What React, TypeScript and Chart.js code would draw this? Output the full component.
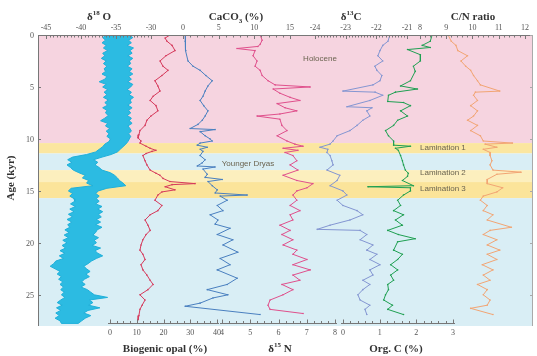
import React, { useEffect, useRef } from 'react';
import { Chart, registerables } from 'chart.js';

Chart.register(...registerables);

const W = 537;
const H = 356;
const AREA = { left: 38, top: 35, right: 533, bottom: 326 };
const AGE_MAX = 28;

// ---------- data ----------
// δ18O: dense record drawn as its min / max envelope
const O18_AGE = [0, 0.25, 0.5, 0.75, 1, 1.25, 1.5, 1.75, 2, 2.25, 2.5, 2.75, 3, 3.25, 3.5, 3.75, 4, 4.25, 4.5, 4.75, 5, 5.25, 5.5, 5.75, 6, 6.25, 6.5, 6.75, 7, 7.25, 7.5, 7.75, 8, 8.25, 8.5, 8.75, 9, 9.25, 9.5, 9.75, 10,
  10.25, 10.5, 10.75, 11.0, 11.25, 11.5, 11.75, 12.0, 12.25, 12.5, 12.75, 13.0, 13.25, 13.5, 13.75, 14.0, 14.25, 14.5, 14.75, 15.0, 15.25, 15.5, 15.75,
  16.0, 16.25, 16.5, 16.75, 17.0, 17.25, 17.5, 17.75, 18.0, 18.25, 18.5, 18.75, 19.0, 19.25, 19.5, 19.75, 20.0, 20.25, 20.5, 20.75, 21.0, 21.25, 21.5, 21.75, 22.0, 22.25, 22.5, 22.75, 23.0, 23.25, 23.5, 23.75, 24.0, 24.25, 24.5, 24.75, 25.0, 25.25, 25.5, 25.75, 26.0, 26.25, 26.5, 26.75, 27.0, 27.25, 27.5, 27.75];
const O18_LO = [-36.3, -36.9, -36.5, -37.0, -36.4, -36.8, -36.2, -36.9, -36.6, -37.1, -36.4, -36.8, -36.3, -36.7, -36.5, -37.0, -36.3, -36.6, -37.4, -36.4, -36.9, -36.2, -36.7, -36.3, -36.8, -36.1, -36.6, -36.2, -36.9, -36.3, -36.5, -36.1, -36.6, -37.2, -36.2, -36.5, -35.9, -36.4, -36.0, -36.3, -35.8,
  -36.0, -36.6, -36.9, -37.4, -37.9, -39.2, -41.2, -41.9, -41.3, -42.0, -41.5, -41.1, -40.3, -39.4, -39.8, -38.9, -39.2, -38.3, -41.4, -41.8, -41.2, -41.6, -41.0,
  -40.9, -41.5, -40.8, -41.6, -41.0, -41.8, -41.2, -42.0, -41.3, -41.9, -41.6, -42.3, -41.7, -42.4, -41.8, -42.6, -42.0, -42.7, -42.2, -43.0, -42.3, -43.1, -42.5, -43.6, -43.9, -44.4, -43.7, -43.0, -43.4, -42.8, -43.2, -42.6, -43.0, -42.5, -42.9, -42.4, -42.8, -42.3, -42.9, -43.4, -42.7, -43.5, -42.9, -43.6, -43.1, -43.7, -43.0, -42.8];
const O18_HI = [-33.1, -32.6, -33.2, -32.8, -33.4, -32.5, -33.0, -32.7, -33.3, -32.6, -33.1, -32.9, -33.4, -32.7, -33.1, -32.6, -33.2, -32.8, -33.3, -32.6, -32.9, -33.4, -32.8, -33.1, -32.5, -33.0, -32.8, -33.3, -32.7, -33.2, -32.9, -33.4, -32.8, -33.1, -32.7, -33.3, -33.0, -32.8, -33.2, -32.9, -33.1,
  -33.3, -33.6, -34.0, -34.4, -34.8, -35.7, -37.0, -38.2, -37.6, -38.0, -37.4, -37.0, -35.8, -35.2, -34.8, -34.5, -34.0, -33.6, -36.3, -37.5, -37.9, -37.4, -37.8,
  -37.4, -37.9, -37.0, -37.6, -36.9, -37.5, -37.1, -37.8, -37.2, -37.9, -37.0, -37.7, -37.9, -38.3, -37.5, -38.1, -37.8, -38.4, -37.2, -38.0, -37.6, -36.9, -37.8, -38.5, -39.0, -39.6, -39.2, -38.7, -39.3, -38.8, -39.5, -39.9, -39.4, -40.0, -39.1, -38.6, -38.1, -36.2, -38.8, -38.3, -38.9, -37.3, -39.0, -39.6, -38.6, -39.4, -39.9, -40.4];

const OPAL_AGE = [0.0, 0.3, 0.6, 1.0, 1.5, 2.0, 2.5, 3.0, 3.4, 3.9, 4.4, 4.9, 5.4, 5.9, 6.3, 6.8, 7.3, 7.8, 8.2, 8.7, 9.2, 9.6, 9.9, 10.2, 10.4, 10.7, 10.9, 11.1, 11.2, 11.4, 11.6, 12.1, 12.5, 13.0, 13.3, 13.5, 13.8, 14.1, 14.3, 14.4, 14.6, 14.9, 15.1, 15.4, 15.9, 16.4, 16.9, 17.3, 17.8, 18.3, 18.8, 19.2, 19.7, 20.2, 20.7, 21.1, 21.6, 22.1, 22.6, 23.1, 23.6, 24.0, 24.5, 25.0, 25.5, 26.0, 26.4, 27.0, 27.4];
const OPAL = [22.4, 20.6, 21.3, 23.2, 24.3, 20.9, 18.7, 19.8, 21.7, 19.4, 16.8, 17.9, 18.7, 16.1, 15.0, 17.2, 17.9, 15.3, 13.8, 13.1, 11.2, 10.8, 10.5, 11.6, 11.2, 13.5, 15.0, 17.2, 15.7, 13.5, 12.3, 13.1, 13.8, 15.0, 17.2, 18.7, 19.8, 22.4, 31.8, 23.2, 20.6, 24.3, 19.4, 17.9, 16.8, 19.4, 17.9, 15.0, 13.1, 14.2, 15.0, 13.5, 12.3, 11.6, 11.2, 12.3, 13.1, 11.6, 12.3, 13.8, 15.0, 16.1, 14.2, 11.2, 13.1, 12.0, 11.2, 10.8, 10.5];

const CACO3_AGE = [0.0, 0.6, 1.5, 2.5, 3.0, 3.4, 3.9, 4.4, 4.9, 5.4, 5.9, 6.3, 6.8, 7.3, 7.8, 8.2, 8.6, 9.0, 9.1, 9.3, 9.7, 10.0, 10.2, 10.4, 10.6, 10.8, 11.0, 11.2, 11.6, 12.0, 12.3, 12.6, 12.7, 12.9, 13.4, 13.7, 13.9, 14.1, 14.5, 14.9, 15.2, 15.4, 15.5, 15.9, 16.4, 16.9, 17.3, 17.8, 18.2, 18.6, 19.2, 19.7, 20.2, 20.9, 21.5, 22.1, 22.6, 23.4, 24.0, 24.5, 25.0, 25.3, 25.8, 26.1, 26.9];
const CACO3 = [0.3, 0.3, 0.4, 0.7, 1.4, 2.4, 3.2, 4.1, 3.5, 3.1, 2.8, 2.4, 2.9, 3.5, 3.1, 2.7, 2.1, 1.0, 4.5, 2.4, 3.1, 3.8, 4.1, 2.4, 2.0, 3.4, 2.4, 2.8, 2.4, 3.1, 2.7, 2.0, 4.5, 2.8, 3.4, 3.1, 5.5, 3.5, 4.1, 4.8, 4.5, 9.0, 5.2, 6.2, 4.8, 5.6, 3.8, 4.9, 4.5, 6.6, 4.8, 7.0, 5.6, 7.7, 5.2, 6.6, 4.8, 7.6, 6.2, 3.4, 6.3, 4.2, 2.4, 0.3, 10.8];

const N15_AGE = [0.0, 0.5, 0.9, 1.1, 1.3, 1.5, 2.0, 2.5, 3.0, 3.4, 3.9, 4.4, 4.8, 5.0, 5.2, 5.6, 6.0, 6.3, 6.6, 7.0, 7.3, 7.6, 7.8, 8.1, 8.7, 9.2, 9.7, 10.2, 10.5, 10.7, 10.9, 11.1, 11.3, 11.6, 12.1, 12.5, 13.0, 13.5, 14.0, 14.3, 14.7, 15.0, 15.4, 15.9, 16.4, 16.9, 17.3, 17.8, 18.3, 18.8, 19.2, 19.7, 20.2, 20.7, 21.1, 21.6, 22.1, 22.6, 23.1, 23.6, 24.0, 24.5, 25.0, 25.5, 26.0, 26.4, 26.8];
const N15 = [5.35, 5.42, 5.35, 5.27, 4.53, 5.17, 5.10, 5.24, 5.17, 5.35, 5.42, 5.63, 5.88, 7.12, 5.81, 6.05, 6.41, 6.76, 5.95, 6.23, 6.65, 6.05, 5.24, 6.05, 6.12, 6.30, 5.95, 6.30, 6.58, 6.87, 6.16, 6.69, 6.23, 6.51, 6.65, 6.41, 6.69, 6.16, 6.65, 7.22, 7.01, 6.65, 6.51, 6.65, 6.41, 6.76, 6.41, 6.51, 6.05, 6.41, 6.12, 6.51, 6.16, 6.65, 6.51, 7.01, 6.51, 7.12, 6.51, 6.76, 6.12, 6.51, 6.16, 5.70, 5.63, 5.70, 6.87];

const C13_AGE = [0.0, 0.6, 1.0, 1.5, 2.0, 2.5, 3.0, 3.4, 3.9, 4.4, 4.8, 5.4, 5.5, 5.8, 6.3, 6.9, 7.0, 7.3, 7.8, 8.2, 8.7, 9.2, 9.7, 10.2, 10.5, 10.8, 11.0, 11.3, 11.6, 12.1, 12.5, 13.0, 13.5, 14.0, 14.5, 15.0, 15.4, 15.9, 16.4, 16.9, 17.3, 17.8, 18.3, 18.7, 18.8, 19.2, 19.7, 20.2, 20.7, 21.1, 21.6, 22.1, 22.6, 23.1, 23.6, 24.0, 24.5, 25.0, 25.5, 26.0, 26.4, 26.9];
const C13 = [-21.56, -21.62, -21.79, -21.88, -21.95, -21.79, -22.05, -21.98, -21.82, -21.88, -22.11, -23.09, -22.04, -21.79, -22.21, -22.96, -22.14, -22.31, -22.21, -22.44, -22.63, -22.86, -23.28, -23.41, -23.51, -23.84, -23.58, -23.61, -23.51, -23.45, -23.41, -23.61, -23.19, -23.28, -23.51, -23.09, -22.96, -23.28, -23.09, -22.63, -22.44, -22.86, -23.51, -23.93, -22.53, -22.31, -22.53, -22.11, -22.31, -21.98, -22.21, -21.88, -22.21, -22.11, -22.44, -22.21, -22.44, -22.60, -22.53, -22.21, -22.37, -22.31];

const ORGC_AGE = [0.0, 0.6, 1.0, 1.2, 1.4, 1.9, 2.5, 3.0, 3.5, 4.4, 4.9, 5.2, 5.5, 5.8, 6.4, 6.5, 6.8, 7.3, 7.8, 8.2, 8.7, 9.2, 9.7, 10.2, 10.6, 10.7, 10.9, 11.1, 11.6, 12.1, 12.5, 13.0, 13.3, 13.6, 14.0, 14.5, 14.6, 14.7, 15.0, 15.4, 15.9, 16.4, 16.9, 17.3, 17.8, 18.3, 18.8, 19.2, 19.6, 19.9, 20.7, 21.1, 21.6, 22.1, 22.6, 23.1, 23.6, 24.0, 24.5, 25.0, 25.5, 26.0, 26.4, 26.9];
const ORGC = [2.43, 2.38, 2.16, 2.38, 1.76, 2.11, 2.11, 1.92, 1.97, 1.84, 1.57, 2.03, 1.43, 1.24, 1.22, 1.65, 1.84, 1.57, 1.76, 1.49, 1.38, 1.16, 1.24, 1.38, 1.38, 1.84, 1.43, 1.51, 1.57, 1.62, 1.65, 1.70, 1.78, 1.76, 1.62, 1.92, 0.68, 1.84, 1.84, 1.65, 1.49, 1.57, 1.38, 1.65, 1.43, 1.62, 1.22, 1.51, 1.97, 1.49, 1.38, 1.62, 1.49, 1.30, 1.49, 1.30, 1.38, 1.22, 1.24, 1.16, 1.11, 1.35, 1.22, 1.65];

const CN_AGE = [0.0, 0.6, 1.0, 1.5, 2.0, 2.5, 3.0, 3.4, 3.9, 4.4, 4.8, 5.4, 5.5, 5.8, 6.3, 6.8, 7.3, 7.8, 8.2, 8.7, 9.2, 9.7, 10.2, 10.4, 10.5, 10.8, 11.0, 11.3, 11.6, 12.1, 12.5, 13.0, 13.2, 13.4, 13.9, 14.3, 14.7, 15.1, 15.5, 15.9, 16.4, 16.9, 17.3, 17.8, 18.5, 18.8, 19.2, 19.7, 20.2, 20.7, 21.1, 21.6, 22.1, 22.6, 23.1, 23.6, 24.0, 24.5, 25.0, 25.5, 26.0, 26.3, 26.9];
const CN = [9.07, 9.19, 9.37, 9.44, 9.81, 9.56, 9.74, 9.93, 10.04, 10.19, 10.30, 11.04, 10.11, 10.04, 10.19, 9.93, 10.19, 10.04, 9.81, 10.19, 9.93, 10.30, 10.41, 11.52, 10.48, 10.93, 10.41, 10.67, 10.67, 10.74, 10.67, 10.78, 11.85, 10.93, 10.56, 10.56, 11.15, 10.93, 10.41, 10.30, 10.56, 10.41, 10.78, 10.56, 11.48, 10.67, 10.41, 10.93, 10.56, 11.04, 10.56, 10.93, 10.37, 10.78, 10.41, 10.67, 10.19, 10.56, 10.41, 10.67, 10.56, 9.93, 10.78];

// tick labels
const AGE_TICKS = [0, 5, 10, 15, 20, 25];
const O18_TICKS = [-45, -40, -35, -30];
const CACO3_TICKS = [0, 5, 10, 15];
const C13_TICKS = [-24, -23, -22, -21];
const CN_TICKS = [8, 9, 10, 11, 12];
const OPAL_TICKS = [0, 10, 20, 30, 40];
const N15_TICKS = [4, 5, 6, 7, 8];
const ORGC_TICKS = [0, 1, 2, 3];

// climate intervals (age from, age to)
const ZONES = [
  { from: 0, to: 10.4, color: '#f6d4e0' },
  { from: 10.4, to: 11.4, color: '#fbe6a0' },
  { from: 11.4, to: 13.0, color: '#d9eef5' },
  { from: 13.0, to: 14.15, color: '#fcefbe' },
  { from: 14.15, to: 15.7, color: '#fbe49a' },
  { from: 15.7, to: 28, color: '#d9eef5' },
];
const ZONE_LABELS = [
  { text: 'Holocene', age: 2.3, x: 320, align: 'center' },
  { text: 'Younger Dryas', age: 12.4, x: 248, align: 'center' },
  { text: 'Lamination 1', age: 10.9, x: 420, align: 'left' },
  { text: 'Lamination 2', age: 13.3, x: 420, align: 'left' },
  { text: 'Lamination 3', age: 14.8, x: 420, align: 'left' },
];

// axis layout: value v0 sits at pixel p0, v1 at p1
const AXES = [
  { id: 'xO18', side: 'top', v0: -45, p0: 46, v1: -30, p1: 151, ticks: O18_TICKS, minor: 0.5 },
  { id: 'xCaCO3', side: 'top', v0: 0, p0: 183, v1: 15, p1: 290, ticks: CACO3_TICKS, minor: 1 },
  { id: 'xC13', side: 'top', v0: -24, p0: 315, v1: -21, p1: 407, ticks: C13_TICKS, minor: 0.1 },
  { id: 'xCN', side: 'top', v0: 8, p0: 420, v1: 12, p1: 525, ticks: CN_TICKS, minor: 0.2 },
  { id: 'xOpal', side: 'bottom', v0: 0, p0: 110, v1: 40, p1: 217, ticks: OPAL_TICKS, minor: 2.5 },
  { id: 'xN15', side: 'bottom', v0: 4, p0: 222, v1: 8, p1: 335, ticks: N15_TICKS, minor: 0.25 },
  { id: 'xOrgC', side: 'bottom', v0: 0, p0: 343, v1: 3, p1: 453, ticks: ORGC_TICKS, minor: 0.2 },
];

const SERIF = '"Liberation Serif", "DejaVu Serif", serif';
const SANS = '"Liberation Sans", Arial, sans-serif';

function axisRange(a: any) {
  const k = (a.v1 - a.v0) / (a.p1 - a.p0);
  return { min: a.v0 - (a.p0 - AREA.left) * k, max: a.v0 + (AREA.right - a.p0) * k };
}

type Part = { t: string; sup?: boolean; sub?: boolean };
function drawRich(ctx: CanvasRenderingContext2D, parts: Part[], x: number, y: number, size: number, align: 'left' | 'center') {
  const fontFor = (p: Part) => `bold ${p.sup || p.sub ? Math.round(size * 0.65) : size}px ${SERIF}`;
  let total = 0;
  for (const p of parts) { ctx.font = fontFor(p); total += ctx.measureText(p.t).width; }
  let cx = align === 'center' ? x - total / 2 : x;
  ctx.textAlign = 'left';
  ctx.textBaseline = 'alphabetic';
  for (const p of parts) {
    ctx.font = fontFor(p);
    const dy = p.sup ? -size * 0.42 : p.sub ? size * 0.25 : 0;
    ctx.fillText(p.t, cx, y + dy);
    cx += ctx.measureText(p.t).width;
  }
}

const decor = {
  id: 'decor',
  beforeDraw(chart: any) {
    const { ctx, chartArea: ca, scales } = chart;
    const ys = scales.y;
    ctx.save();
    for (const z of ZONES) {
      const y0 = ys.getPixelForValue(z.from);
      const y1 = ys.getPixelForValue(z.to);
      ctx.fillStyle = z.color;
      ctx.fillRect(ca.left, y0, ca.right - ca.left, y1 - y0);
    }
    ctx.fillStyle = '#6b6450';
    ctx.font = `8px ${SANS}`;
    ctx.textBaseline = 'middle';
    for (const l of ZONE_LABELS) {
      ctx.textAlign = l.align;
      ctx.fillText(l.text, l.x, ys.getPixelForValue(l.age));
    }
    ctx.restore();
  },
  afterDraw(chart: any) {
    const { ctx, chartArea: ca, scales } = chart;
    const ys = scales.y;
    ctx.save();
    ctx.strokeStyle = '#777';
    ctx.fillStyle = '#555';
    ctx.lineWidth = 1;
    ctx.beginPath();
    ctx.moveTo(ca.left, ca.top + 0.5);
    ctx.lineTo(ca.right, ca.top + 0.5);
    ctx.stroke();
    ctx.beginPath();
    ctx.moveTo(ca.left + 0.5, ca.top);
    ctx.lineTo(ca.left + 0.5, ca.bottom);
    ctx.stroke();
    ctx.strokeStyle = '#aaa';
    ctx.beginPath();
    ctx.moveTo(ca.right - 0.5, ca.top);
    ctx.lineTo(ca.right - 0.5, ca.bottom);
    ctx.stroke();
    for (const t of AGE_TICKS) {
      const y = Math.round(ys.getPixelForValue(t)) + 0.5;
      ctx.beginPath();
      ctx.moveTo(ca.right, y);
      ctx.lineTo(ca.right - 3, y);
      ctx.stroke();
    }
    ctx.strokeStyle = '#777';
    ctx.font = `8px ${SERIF}`;
    ctx.textAlign = 'right';
    ctx.textBaseline = 'middle';
    for (const t of AGE_TICKS) {
      const y = Math.round(ys.getPixelForValue(t)) + 0.5;
      ctx.beginPath();
      ctx.moveTo(ca.left, y);
      ctx.lineTo(ca.left + 3, y);
      ctx.stroke();
      ctx.fillText(String(t), ca.left - 4, y);
    }
    const bottomY = ca.bottom - 2.5;
    for (const a of AXES) {
      const sc = scales[a.id];
      const first = a.ticks[0];
      const last = a.ticks[a.ticks.length - 1];
      const n = Math.round((last - first) / a.minor);
      if (a.side === 'bottom') {
        ctx.beginPath();
        ctx.moveTo(sc.getPixelForValue(first) - 2, bottomY);
        ctx.lineTo(sc.getPixelForValue(last) + 2, bottomY);
        ctx.stroke();
      }
      for (let i = 0; i <= n; i++) {
        const v = first + i * a.minor;
        const x = Math.round(sc.getPixelForValue(v)) + 0.5;
        const major = a.ticks.some((t: number) => Math.abs(t - v) < 1e-6);
        const len = major ? 4 : 2.5;
        ctx.beginPath();
        if (a.side === 'top') {
          ctx.moveTo(x, ca.top);
          ctx.lineTo(x, ca.top + len);
        } else {
          ctx.moveTo(x, bottomY);
          ctx.lineTo(x, bottomY - len);
        }
        ctx.stroke();
      }
      ctx.textAlign = 'center';
      for (const t of a.ticks) {
        const x = sc.getPixelForValue(t);
        if (a.side === 'top') {
          ctx.textBaseline = 'alphabetic';
          ctx.fillText(String(t), x, ca.top - 5);
        } else {
          ctx.textBaseline = 'top';
          ctx.fillText(String(t), x, bottomY + 5);
        }
      }
    }
    ctx.fillStyle = '#333';
    drawRich(ctx, [{ t: 'δ' }, { t: '18', sup: true }, { t: ' O' }], 99, 20, 11, 'center');
    drawRich(ctx, [{ t: 'CaCO' }, { t: '3', sub: true }, { t: ' (%)' }], 236, 20, 11, 'center');
    drawRich(ctx, [{ t: 'δ' }, { t: '13', sup: true }, { t: 'C' }], 351, 20, 11, 'center');
    drawRich(ctx, [{ t: 'C/N ratio' }], 473, 20, 11, 'center');
    drawRich(ctx, [{ t: 'Biogenic opal (%)' }], 165, 352, 11, 'center');
    drawRich(ctx, [{ t: 'δ' }, { t: '15', sup: true }, { t: ' N' }], 280, 352, 11, 'center');
    drawRich(ctx, [{ t: 'Org. C (%)' }], 396, 352, 11, 'center');
    ctx.save();
    ctx.translate(14, 178);
    ctx.rotate(-Math.PI / 2);
    drawRich(ctx, [{ t: 'Age (kyr)' }], 0, 0, 11, 'center');
    ctx.restore();
    ctx.restore();
  },
};

function pts(ages: number[], vals: number[]) {
  return ages.map((a, i) => ({ x: vals[i], y: a }));
}

export default function App() {
  const ref = useRef<HTMLCanvasElement>(null);
  useEffect(() => {
    if (!ref.current) return;
    const band = [
      ...O18_AGE.map((a, i) => ({ x: O18_LO[i], y: a })),
      ...O18_AGE.map((a, i) => ({ x: O18_HI[i], y: a })).reverse(),
    ];
    const line = (label: string, data: any[], axis: string, color: string) => ({
      label, data, xAxisID: axis, yAxisID: 'y', borderColor: color, backgroundColor: color,
      borderWidth: 1, pointRadius: 0.8, pointBorderWidth: 0, fill: false, tension: 0,
    });
    const scales: any = {
      y: { type: 'linear', axis: 'y', min: 0, max: AGE_MAX, reverse: true, display: false },
    };
    for (const a of AXES) {
      const r = axisRange(a);
      scales[a.id] = { type: 'linear', axis: 'x', min: r.min, max: r.max, display: false };
    }
    const chart = new Chart(ref.current, {
      type: 'line',
      data: {
        datasets: [
          { label: 'δ18O', data: band, xAxisID: 'xO18', yAxisID: 'y', borderColor: '#1fb0da', backgroundColor: '#2cbbe2', borderWidth: 1, pointRadius: 0, fill: 'shape', tension: 0 } as any,
          line('Biogenic opal', pts(OPAL_AGE, OPAL), 'xOpal', '#d63a5c'),
          line('CaCO3', pts(CACO3_AGE, CACO3), 'xCaCO3', '#4a80c0'),
          line('δ15N', pts(N15_AGE, N15), 'xN15', '#e0508c'),
          line('δ13C', pts(C13_AGE, C13), 'xC13', '#8496d2'),
          line('Org. C', pts(ORGC_AGE, ORGC), 'xOrgC', '#1fa052'),
          line('C/N', pts(CN_AGE, CN), 'xCN', '#f2a574'),
        ],
      },
      options: {
        responsive: false,
        animation: false,
        devicePixelRatio: 1,
        events: [],
        layout: { padding: { left: AREA.left, top: AREA.top, right: W - AREA.right, bottom: H - AREA.bottom } },
        plugins: { legend: { display: false }, tooltip: { enabled: false } },
        scales,
      },
      plugins: [decor],
    } as any);
    return () => chart.destroy();
  }, []);
  return (
    <div style={{ position: 'fixed', left: 0, top: 0, width: W, height: H, background: '#fff' }}>
      <canvas ref={ref} width={W} height={H} style={{ display: 'block' }} />
    </div>
  );
}
